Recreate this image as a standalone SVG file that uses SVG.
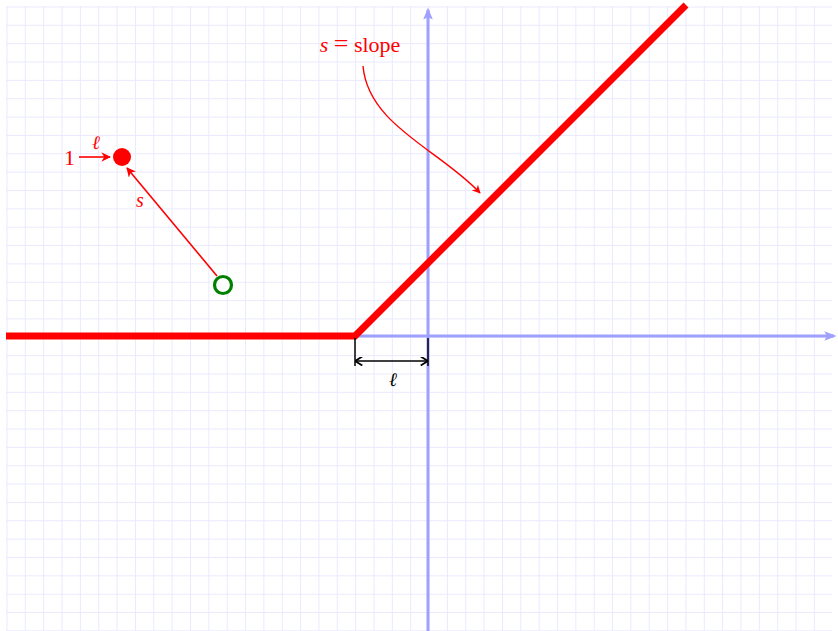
<svg xmlns="http://www.w3.org/2000/svg" width="838" height="631" viewBox="0 0 838 631">
<defs>
<pattern id="grid" x="6.5" y="6.5" width="18.35" height="18.35" patternUnits="userSpaceOnUse">
<path d="M0 0 H18.35 M0 0 V18.35" fill="none" stroke="#e9e9ff" stroke-width="2"/>
</pattern>
<marker id="axArr" viewBox="0 0 10 10" refX="8" refY="5" markerWidth="4" markerHeight="4" orient="auto" markerUnits="strokeWidth">
<path d="M0 1 L10 5 L0 9 L2 5 Z" fill="#a0a0ff"/>
</marker>
<marker id="redArr" viewBox="0 0 10 10" refX="9" refY="5" markerWidth="6" markerHeight="6" orient="auto" markerUnits="strokeWidth">
<path d="M0 0 L10 5 L0 10 L3 5 Z" fill="#ff0000"/>
</marker>
<marker id="blkArr" viewBox="0 0 10 10" refX="9" refY="5" markerWidth="6" markerHeight="6" orient="auto-start-reverse" markerUnits="strokeWidth">
<path d="M2 0 L10 5 L2 10" fill="none" stroke="#000" stroke-width="2"/>
</marker>
</defs>
<style>
.red{fill:#ff0000;font-family:"Liberation Serif","DejaVu Serif",serif}
.it{font-style:italic}
.ax{stroke:#a0a0ff;stroke-width:3;fill:none}
</style>
<rect width="838" height="631" fill="#ffffff"/>
<rect x="6" y="6" width="826" height="625" fill="url(#grid)"/>
<g id="axes">
<line class="ax" x1="6" y1="336" x2="834" y2="336" marker-end="url(#axArr)"/>
<line class="ax" x1="428" y1="631" x2="428" y2="10" marker-end="url(#axArr)"/>
</g>
<g id="relu">
<polyline points="6,336 355,336 686,5" fill="none" stroke="#ff0000" stroke-width="7"/>
</g>
<g id="connectors">
<line x1="355" y1="338" x2="355" y2="366" stroke="#000" stroke-width="1.5"/>
<line x1="428" y1="338" x2="428" y2="366" stroke="#000" stroke-width="1.5"/>
<line x1="356" y1="361" x2="427" y2="361" stroke="#000" stroke-width="1.5" marker-start="url(#blkArr)" marker-end="url(#blkArr)"/>
<line x1="79" y1="157" x2="110" y2="157" stroke="#ff0000" stroke-width="1.6" marker-end="url(#redArr)"/>
<line x1="217" y1="276" x2="127" y2="168" stroke="#ff0000" stroke-width="1.6" marker-end="url(#redArr)"/>
<path d="M363 66 C368 125 440 150 480 193" fill="none" stroke="#ff0000" stroke-width="1.4" marker-end="url(#redArr)"/>
</g>
<g id="dot">
<circle cx="122" cy="157" r="9" fill="#ff0000"/>
</g>
<g id="start">
<circle cx="223" cy="285" r="8.5" fill="#ffffff" stroke="#008000" stroke-width="3.2"/>
</g>
<g id="labels">
<text class="red" x="64" y="165" font-size="22">1</text>
<text class="red it" x="96" y="149" font-size="19" text-anchor="middle">ℓ</text>
<text class="red it" x="140" y="207" font-size="20" text-anchor="middle">s</text>
<text class="red" x="360" y="52" font-size="22" text-anchor="middle"><tspan font-style="italic">s</tspan> <tspan font-size="26">=</tspan> slope</text>
<text x="393" y="386" font-size="19" text-anchor="middle" font-style="italic" font-family="Liberation Serif,DejaVu Serif,serif">ℓ</text>
</g>
</svg>
